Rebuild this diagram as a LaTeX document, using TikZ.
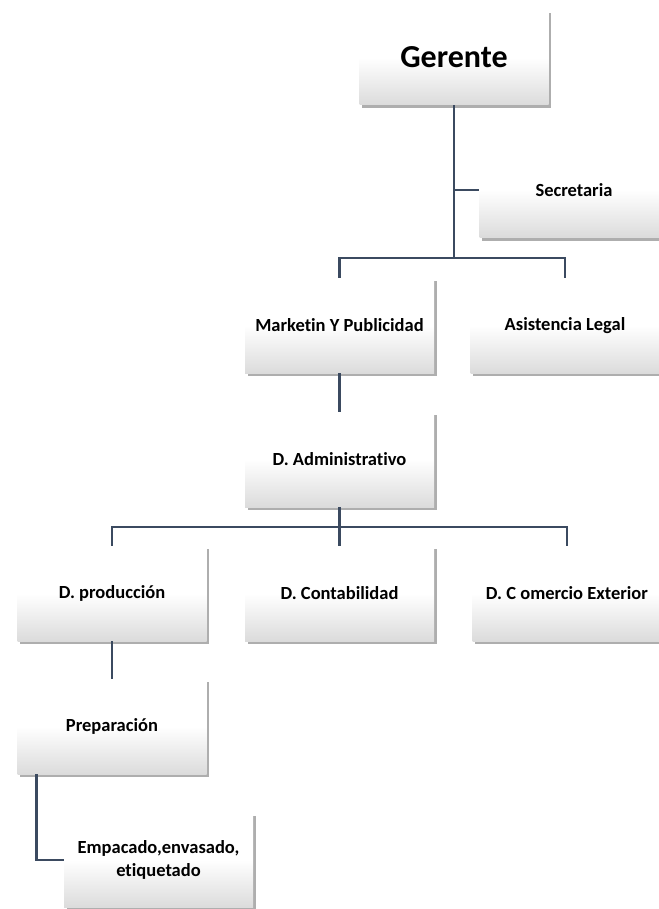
\documentclass[tikz,border=0pt]{standalone}
\usepackage{fontspec}
\setmainfont{Carlito}[Ligatures=NoCommon]
\usetikzlibrary{shadows}
\definecolor{linea}{RGB}{59,74,96}

\begin{document}
\begin{tikzpicture}[x=1pt,y=1pt,
    caja/.style={minimum width=189pt,minimum height=95pt,align=center,
      top color=white,bottom color=black!14,middle color=white,
      drop shadow={shadow xshift=2.5pt,shadow yshift=-3pt,opacity=0.45,fill=black!70},
      font=\fontsize{18.5}{23}\selectfont\bfseries},
    org/.style={draw=linea,line width=2.4pt}]
      \useasboundingbox (0,0) rectangle (658,-909);

      \node[caja,font=\fontsize{32}{38}\selectfont\bfseries] (GER) at (454,-57.5) {Gerente};
      \node[caja] (SEC) at (574,-190) {Secretaria};
      \node[caja] (MKT) at (339.5,-325.5) {Marketin Y Publicidad};
      \node[caja] (ASL) at (565,-325.5) {Asistencia Legal};
      \node[caja] (ADM) at (339.5,-459.5) {D. Administrativo};
      \node[caja] (PROD) at (112,-593.5) {D. producción};
      \node[caja] (CONT) at (339.5,-593.5) {D. Contabilidad};
      \node[caja] (COM) at (567,-593.5) {D. C omercio Exterior};
      \node[caja] (PREP) at (112,-726.5) {Preparación};
      \node[caja] (EMP) at (158.5,-860) {Empacado,envasado,\\etiquetado};

      \coordinate (B1) at (454,-258);
      \coordinate (B2) at (339.5,-527);

      \draw[org] (GER) |- (SEC);
      \draw[org] (GER) -- (B1) -| (MKT);
      \draw[org] (B1) -| (ASL);
      \draw[org] (MKT) -- (ADM);
      \draw[org] (ADM) -- (B2) -| (PROD);
      \draw[org] (B2) -- (CONT);
      \draw[org] (B2) -| (COM);
      \draw[org] (PROD) -- (PREP);
      \draw[org] ([xshift=19pt]PREP.south west) |- (EMP);
    \end{tikzpicture}
\end{document}
